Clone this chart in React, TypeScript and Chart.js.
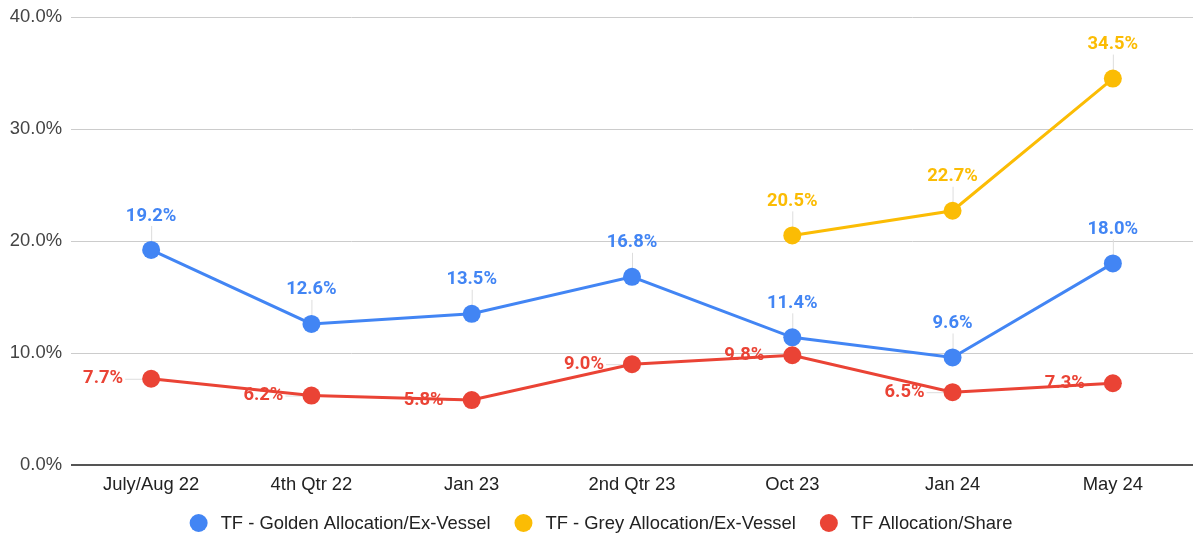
import React, { useEffect, useRef } from "react";
import { Chart, registerables } from "chart.js";

Chart.register(...registerables);

const categories = ["July/Aug 22", "4th Qtr 22", "Jan 23", "2nd Qtr 23", "Oct 23", "Jan 24", "May 24"];
const goldenValues = [19.2, 12.6, 13.5, 16.8, 11.4, 9.6, 18.0];
const greyValues = [null, null, null, null, 20.5, 22.7, 34.5];
const shareValues = [7.7, 6.2, 5.8, 9.0, 9.8, 6.5, 7.3];
const seriesNames = ["TF - Golden Allocation/Ex-Vessel", "TF - Grey Allocation/Ex-Vessel", "TF Allocation/Share"];
const seriesColors = ["#4285F4", "#FBBC04", "#EA4335"];
const labelSides = ["top", "top", "left"];
const yTickValues = [0, 10, 20, 30, 40];

const FAMILY = "'Liberation Sans', Arial, sans-serif";
const TICK_SIZE = 18.4;
const TICK_FONT = `${TICK_SIZE}px ${FAMILY}`;
const LABEL_FONT = "bold 18.4px Roboto, 'Liberation Sans', sans-serif";

const dataLabelPlugin = {
  id: "dataLabels",
  beforeDatasetsDraw(chart: any) {
    const ctx = chart.ctx;
    ctx.save();
    ctx.strokeStyle = "#dddddd";
    ctx.lineWidth = 1;
    chart.data.datasets.forEach((ds: any, di: number) => {
      const meta = chart.getDatasetMeta(di);
      meta.data.forEach((pt: any, i: number) => {
        const v = ds.data[i];
        if (v === null || v === undefined) return;
        ctx.beginPath();
        if (labelSides[di] === "top") {
          ctx.moveTo(pt.x + 0.5, pt.y - 24);
          ctx.lineTo(pt.x + 0.5, pt.y);
        } else {
          ctx.moveTo(pt.x - 26, pt.y + 0.5);
          ctx.lineTo(pt.x, pt.y + 0.5);
        }
        ctx.stroke();
      });
    });
    ctx.restore();
  },
  afterDatasetsDraw(chart: any) {
    const ctx = chart.ctx;
    ctx.save();
    ctx.font = LABEL_FONT;
    chart.data.datasets.forEach((ds: any, di: number) => {
      const meta = chart.getDatasetMeta(di);
      ctx.fillStyle = seriesColors[di];
      meta.data.forEach((pt: any, i: number) => {
        const v = ds.data[i];
        if (v === null || v === undefined) return;
        const txt = v.toFixed(1) + "%";
        if (labelSides[di] === "top") {
          ctx.textAlign = "center";
          ctx.textBaseline = "middle";
          ctx.fillText(txt, pt.x, pt.y - 34);
        } else {
          ctx.textAlign = "right";
          ctx.textBaseline = "middle";
          ctx.fillText(txt, pt.x - 28, pt.y);
        }
      });
    });
    ctx.restore();
  },
};

const legendPlugin = {
  id: "customLegend",
  afterDraw(chart: any) {
    const ctx = chart.ctx;
    ctx.save();
    ctx.font = TICK_FONT;
    const r = 9;
    const textGap = 13;
    const itemGap = 24;
    const widths = seriesNames.map((n) => ctx.measureText(n).width);
    let total = 0;
    widths.forEach((w, i) => {
      total += r * 2 + textGap + w + (i < widths.length - 1 ? itemGap : 0);
    });
    let x = 601 - total / 2;
    const y = 523;
    seriesNames.forEach((n, i) => {
      ctx.fillStyle = seriesColors[i];
      ctx.beginPath();
      ctx.arc(x + r, y, r, 0, Math.PI * 2);
      ctx.fill();
      ctx.fillStyle = "#222222";
      ctx.textAlign = "left";
      ctx.textBaseline = "middle";
      ctx.fillText(n, x + r * 2 + textGap, y + 1);
      x += r * 2 + textGap + widths[i] + itemGap;
    });
    ctx.restore();
  },
};

export default function App() {
  const ref = useRef<HTMLCanvasElement>(null);
  useEffect(() => {
    if (!ref.current) return;
    const mk = (i: number, data: any[], order: number) => ({
      label: seriesNames[i],
      data,
      borderColor: seriesColors[i],
      backgroundColor: seriesColors[i],
      pointBackgroundColor: seriesColors[i],
      pointBorderColor: seriesColors[i],
      pointRadius: 9,
      pointBorderWidth: 0,
      borderWidth: 3,
      tension: 0,
      spanGaps: false,
      clip: false,
      order,
    });
    const chart = new Chart(ref.current, {
      type: "line",
      data: {
        labels: categories,
        datasets: [mk(0, goldenValues, 2), mk(1, greyValues, 1), mk(2, shareValues, 0)],
      },
      plugins: [dataLabelPlugin, legendPlugin],
      options: {
        animation: false,
        responsive: false,
        maintainAspectRatio: false,
        layout: { autoPadding: false, padding: { top: 17, bottom: 40, left: 0, right: 0 } },
        plugins: { legend: { display: false }, tooltip: { enabled: false } },
        scales: {
          x: {
            offset: true,
            grid: { display: false, drawTicks: true, tickLength: 9, tickColor: "rgba(0,0,0,0)" },
            border: { display: false },
            ticks: { color: "#222222", font: { family: FAMILY, size: TICK_SIZE }, padding: 0, maxRotation: 0, autoSkip: false },
            afterFit: (s: any) => { s.height = 35; s.paddingLeft = 0; s.paddingRight = 0; },
          },
          y: {
            min: 0,
            max: 40,
            afterBuildTicks: (s: any) => { s.ticks = yTickValues.map((v) => ({ value: v })); },
            grid: {
              drawTicks: false,
              color: (c: any) => (c.tick && c.tick.value === 0 ? "#555555" : "#cccccc"),
              lineWidth: (c: any) => (c.tick && c.tick.value === 0 ? 2 : 1),
            },
            border: { display: false },
            ticks: {
              color: "#444444",
              font: { family: FAMILY, size: TICK_SIZE },
              padding: 9,
              callback: (v: any) => Number(v).toFixed(1) + "%",
            },
            afterFit: (s: any) => { s.width = 71; s.paddingTop = 0; s.paddingBottom = 0; },
          },
        },
      },
    } as any);
    return () => chart.destroy();
  }, []);
  return (
    <div style={{ position: "fixed", left: 0, top: 0, width: 1193, height: 540, background: "#fff" }}>
      <canvas ref={ref} width={1193} height={540} style={{ display: "block", width: 1193, height: 540 }} />
    </div>
  );
}
